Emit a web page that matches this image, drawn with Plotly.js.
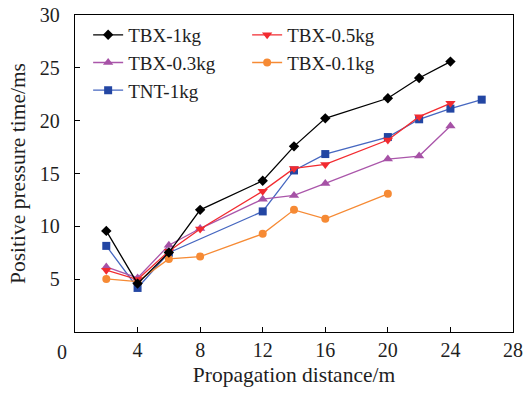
<!DOCTYPE html>
<html>
<head>
<meta charset="utf-8">
<script src="https://cdn.plot.ly/plotly-3.0.1.min.js"></script>
<style>
  html, body { margin: 0; padding: 0; background: #fff; }
  #chart { width: 530px; height: 394px; }
</style>
</head>
<body>
<div id="chart"></div>
<script>
// Propagation distance (m) for each charge
const distTBX1 = [2, 4, 6, 8, 12, 14, 16, 20, 22, 24];
const distTBX05 = [2, 4, 6, 8, 12, 14, 16, 20, 22, 24];
const distTBX03 = [2, 4, 6, 8, 12, 14, 16, 20, 22, 24];
const distTBX01 = [2, 4, 6, 8, 12, 14, 16, 20];
const distTNT1 = [2, 4, 6, 12, 14, 16, 20, 22, 24, 26];

// Positive pressure duration (ms)
const timeTBX1 = [9.57, 4.58, 7.52, 11.56, 14.31, 17.57, 20.22, 22.12, 24.04, 25.59];
const timeTBX05 = [5.85, 4.96, 7.65, 9.75, 13.33, 15.48, 15.86, 18.17, 20.38, 21.64];
const timeTBX03 = [6.16, 5.12, 8.21, 9.79, 12.57, 12.92, 14.06, 16.37, 16.65, 19.49];
const timeTBX01 = [5.02, 4.77, 6.92, 7.14, 9.29, 11.56, 10.71, 13.08];
const timeTNT1 = [8.15, 4.17, 7.5, 11.41, 15.29, 16.84, 18.45, 20.13, 21.14, 21.99];

const seriesNames = ['TBX-1kg', 'TBX-0.5kg', 'TBX-0.3kg', 'TBX-0.1kg', 'TNT-1kg'];
const xTickVals = [4, 8, 12, 16, 20, 24, 28];
const yTickVals = [5, 10, 15, 20, 25, 30];

const serif = 'Liberation Serif, Times New Roman, serif';
const textColor = '#1e1e1e';

function series(name, xs, ys, lineColor, markerColor, symbol, size, rank) {
  return {
    type: 'scatter', mode: 'lines+markers', name: name,
    x: xs, y: ys, legendrank: rank,
    line: { color: lineColor, width: 1.3 },
    marker: { color: markerColor, symbol: symbol, size: size }
  };
}

// Drawn back to front so TBX-1kg sits on top
const traces = [
  series(seriesNames[4], distTNT1, timeTNT1, '#4667c0', '#2346a3', 'square', 8, 5),
  series(seriesNames[3], distTBX01, timeTBX01, '#f68a34', '#f68a34', 'circle', 8, 4),
  series(seriesNames[2], distTBX03, timeTBX03, '#aa56aa', '#a652a6', 'triangle-up', 9, 3),
  series(seriesNames[1], distTBX05, timeTBX05, '#f22b30', '#f22b30', 'triangle-down', 9, 2),
  series(seriesNames[0], distTBX1, timeTBX1, '#000000', '#000000', 'diamond', 8, 1)
];

const axisCommon = {
  showline: true, mirror: true, linecolor: '#000', linewidth: 1.2,
  ticks: 'inside', ticklen: 5, tickwidth: 1.2, tickcolor: '#000',
  showgrid: false, zeroline: false,
  tickfont: { family: serif, size: 20, color: textColor }
};

const layout = {
  width: 530, height: 394,
  margin: { l: 75, r: 17, t: 15, b: 62 },
  paper_bgcolor: '#fff', plot_bgcolor: '#fff',
  showlegend: true,
  legend: {
    orientation: 'h', x: 0.03, y: 0.997, xanchor: 'left', yanchor: 'top',
    entrywidth: 114, entrywidthmode: 'pixels',
    bgcolor: 'rgba(0,0,0,0)', traceorder: 'normal',
    font: { family: serif, size: 19, color: textColor }
  },
  xaxis: Object.assign({}, axisCommon, {
    range: [0, 28], tickvals: xTickVals,
    title: { text: 'Propagation distance/m', font: { family: serif, size: 21.5, color: textColor }, standoff: 6 }
  }),
  yaxis: Object.assign({}, axisCommon, {
    range: [0, 30], tickvals: yTickVals, ticklabelstandoff: 10,
    title: { text: 'Positive pressure time/ms', font: { family: serif, size: 21.5, color: textColor }, standoff: 8 }
  }),
  annotations: [{
    x: 0, y: 0, xref: 'x', yref: 'paper', text: '0', showarrow: false,
    xanchor: 'center', yanchor: 'top', xshift: -13, yshift: -7,
    font: { family: serif, size: 20, color: textColor }
  }]
};

Plotly.newPlot('chart', traces, layout, { displayModeBar: false, staticPlot: true });
</script>
</body>
</html>
